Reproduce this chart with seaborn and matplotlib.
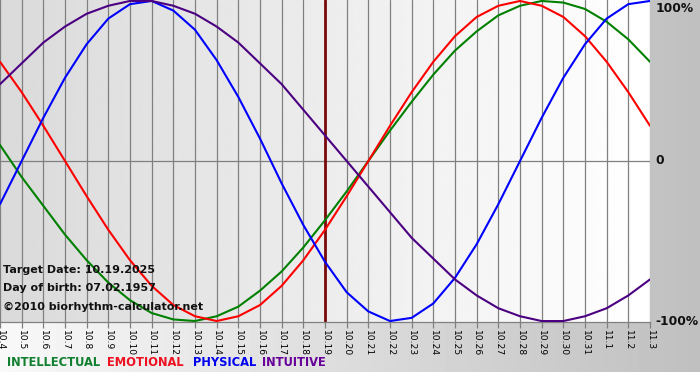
import numpy as np
import pandas as pd
import matplotlib
matplotlib.use("Agg")
import matplotlib.pyplot as plt
import seaborn as sns

# ---- data (percent values) ----
days = [f"10.{d}" for d in range(4, 32)] + ["11.1", "11.2", "11.3"]
target_day = "10.19"
intellectual = [10, -10, -28, -46, -62, -76, -87, -95, -99, -100, -97, -91, -81, -69, -54, -37,
                -19, 0, 19, 37, 54, 69, 81, 91, 97, 100, 99, 95, 87, 76, 62]
emotional = [62, 43, 22, 0, -22, -43, -62, -78, -90, -97, -100, -97, -90, -78, -62, -43,
             -22, 0, 22, 43, 62, 78, 90, 97, 100, 97, 90, 78, 62, 43, 22]
physical = [-27, 0, 27, 52, 73, 89, 98, 100, 94, 82, 63, 40, 14, -14, -40, -63,
            -82, -94, -100, -98, -89, -73, -52, -27, 0, 27, 52, 73, 89, 98, 100]
intuitive = [48, 61, 74, 84, 92, 97, 100, 100, 97, 92, 84, 74, 61, 48, 32, 16,
             0, -16, -32, -48, -61, -74, -84, -92, -97, -100, -100, -97, -92, -84, -74]
series_names = ["INTELLECTUAL", "EMOTIONAL", "PHYSICAL", "INTUITIVE"]
line_colors = ["#008000", "#ff0000", "#0000ff", "#4b0082"]
text_colors = ["#108030", "#ee1122", "#0000ee", "#660099"]
y_labels = ["100%", "0", "-100%"]
info_lines = ["Target Date: 10.19.2025", "Day of birth: 07.02.1957", "\u00a92010 biorhythm-calculator.net"]

rows = []
for name, vals in zip(series_names, [intellectual, emotional, physical, intuitive]):
    for i, v in enumerate(vals):
        rows.append({"idx": i, "day": days[i], "value": v, "series": name})
df = pd.DataFrame(rows)

sns.set_theme(style="white")
plt.rcParams["font.family"] = ["DejaVu Sans"]

W, H = 700, 380
fig = plt.figure(figsize=(7, 3.8), dpi=100)

# figure background gradient
bg = fig.add_axes([0, 0, 1, 1], zorder=0)
xs = np.linspace(0, 1, W)
row = 0.975 - 0.225 * xs
img = np.tile(row, (H, 1))
img[372:, :] = 1.0
bg.imshow(img, cmap="gray", vmin=0, vmax=1, aspect="auto", extent=(0, 1, 0, 1), origin="upper")
bg.set_xlim(0, 1)
bg.set_ylim(0, 1)
bg.axis("off")

ax = fig.add_axes([0, 58 / H, 650 / W, 322 / H], zorder=1)
ax.patch.set_alpha(0)
n = len(days)
ylim = (-100.6, 100.6)
grad = np.tile(np.linspace(0.855, 1.0, 256), (2, 1))
ax.imshow(grad, cmap="gray", vmin=0, vmax=1, aspect="auto",
          extent=(0, n - 1, ylim[0], ylim[1]), zorder=0)

ax.set_xticks(range(n))
ax.set_xticklabels(days, rotation=-90, fontsize=6.6, color="#000000")
ax.grid(True, axis="x", color="#808080", lw=0.9, zorder=1)
ax.grid(False, axis="y")
ax.set_axisbelow(True)
ax.axhline(0, color="#808080", lw=0.9, zorder=1)

sns.lineplot(data=df, x="idx", y="value", hue="series", hue_order=series_names,
             palette=line_colors, legend=False, lw=1.5, ax=ax, zorder=3)

ax.axvline(days.index(target_day), color="#7a0a0a", lw=2.0, zorder=2)

ax.set_xlim(0, n - 1)
ax.set_ylim(*ylim)
ax.set_yticks([])
ax.set_xlabel("")
ax.set_ylabel("")
for s in ["left", "top", "right"]:
    ax.spines[s].set_visible(False)
ax.spines["bottom"].set_color("#808080")
ax.spines["bottom"].set_linewidth(0.9)
ax.tick_params(axis="x", bottom=True, length=4, width=0.9, color="#808080", pad=1.5, direction="out")

# right-hand percent labels
yt = ax.get_yaxis_transform()
ax.text(1.009, 0.995, y_labels[0], transform=ax.transAxes, ha="left", va="top",
        fontsize=8.8, fontweight="bold", color="#111111", clip_on=False)
ax.text(1.009, 0, y_labels[1], transform=yt, ha="left", va="center",
        fontsize=8.8, fontweight="bold", color="#111111", clip_on=False)
ax.text(1.009, -100, y_labels[2], transform=yt, ha="left", va="center",
        fontsize=8.8, fontweight="bold", color="#111111", clip_on=False)

# info text
for txt, ypix in zip(info_lines, [270, 288, 307]):
    fig.text(3 / W, 1 - ypix / H, txt, ha="left", va="center", fontsize=8,
             fontweight="bold", color="#111111", zorder=5)

# legend text
for name, col, xpix in zip(series_names, text_colors, [7, 107, 193, 262]):
    fig.text(xpix / W, 1 - 362 / H, name, ha="left", va="center", fontsize=8.3,
             fontweight="bold", color=col)

fig.savefig("out.png", dpi=100)
